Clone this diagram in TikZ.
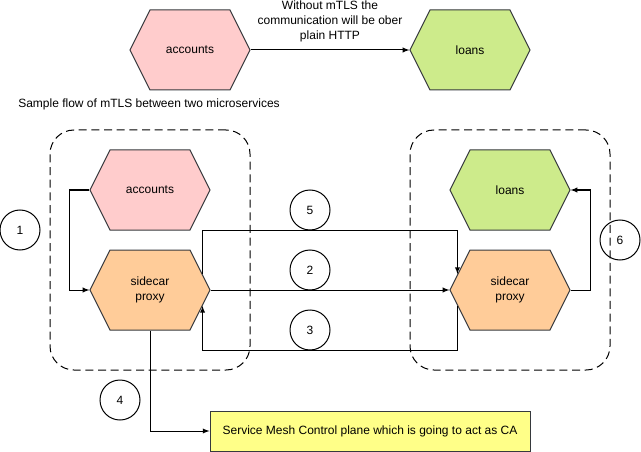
\documentclass[tikz,border=0pt]{standalone}
\usepackage{fontspec}
\setmainfont{Liberation Sans}
\usetikzlibrary{shapes.symbols}

\definecolor{edgegray}{HTML}{36393D}
\definecolor{accfill}{HTML}{FFCCCC}
\definecolor{loanfill}{HTML}{CDEB8B}
\definecolor{sidefill}{HTML}{FFCC99}
\definecolor{cafill}{HTML}{FFFF88}

\tikzset{
  hexa/.style={signal, signal to=east and west, signal pointer angle=126.87,
    draw=edgegray, line width=0.75pt, minimum width=90pt, minimum height=60pt,
    inner sep=0pt, align=center, font=\fontsize{9}{11.25}\selectfont},
  meshbox/.style={draw, line width=0.75pt, dash pattern=on 6pt off 3.5pt,
    rounded corners=18pt, minimum width=150pt, minimum height=180pt},
  stepno/.style={draw, circle, line width=0.75pt, minimum size=30pt, inner sep=0pt,
    font=\fontsize{9}{11}\selectfont},
  flow/.style={-latex, line width=0.75pt},
}

\begin{document}
\begin{tikzpicture}[x=0.75pt, y=-0.75pt]
  \useasboundingbox (0,0) rectangle (641,452);
  % plain HTTP case
  \node[hexa, fill=accfill] (accT) at (190,50) {accounts};
  \node[hexa, fill=loanfill] (loanT) at (470,50) {loans};
  \draw[flow] (accT.east) -- node[above=2.5pt, align=center,
    font=\fontsize{9}{11}\selectfont] (plain)
    {Without mTLS the\\communication will be ober\\plain HTTP} (loanT.west);
  \node[font=\fontsize{9}{11}\selectfont] (title) at (149,104)
    {Sample flow of mTLS between two microservices};
  % the two pods
  \node[meshbox] (podL) at (150,250) {};
  \node[meshbox] (podR) at (510,250) {};
  \node[hexa, fill=accfill] (accL) at (150,190) {accounts};
  \node[hexa, fill=sidefill] (sideL) at (150,290) {sidecar\\proxy};
  \node[hexa, fill=loanfill] (loanR) at (510,190) {loans};
  \node[hexa, fill=sidefill] (sideR) at (510,290) {sidecar\\proxy};
  \node[draw=edgegray, line width=0.75pt, fill=cafill, minimum width=240pt,
    minimum height=30pt, inner sep=0pt, font=\fontsize{9}{11}\selectfont] (ca)
    at (370,431) {Service Mesh Control plane which is going to act as CA};
  % step numbers
  \node[stepno] (n1) at (20,230) {1};
  \node[stepno] (n2) at (310,270) {2};
  \node[stepno] (n3) at (310,330) {3};
  \node[stepno] (n4) at (120,400) {4};
  \node[stepno] (n5) at (310,210) {5};
  \node[stepno] (n6) at (620,240) {6};
  % connection points on the proxies
  \coordinate (p5a) at ([shift={(-8,-16)}]sideL.east);
  \coordinate (p5b) at ([shift={(8,-16)}]sideR.west);
  \coordinate (p3a) at ([shift={(8,16)}]sideR.west);
  \coordinate (p3b) at ([shift={(-8,16)}]sideL.east);
  % flows
  \draw[flow] (accL.west) -- ++(-20,0) |- (sideL.west); % 1
  \draw[flow] (sideL.east) -- (sideR.west); % 2
  \draw[flow] (p3a) -- ++(0,44) -| (p3b); % 3
  \draw[flow] (sideL.south) |- (ca.west); % 4
  \draw[flow] (p5a) -- (p5a |- accL.south) -| (p5b); % 5
  \draw[flow] (sideR.east) -- ++(20,0) |- (loanR.east); % 6
\end{tikzpicture}
\end{document}
